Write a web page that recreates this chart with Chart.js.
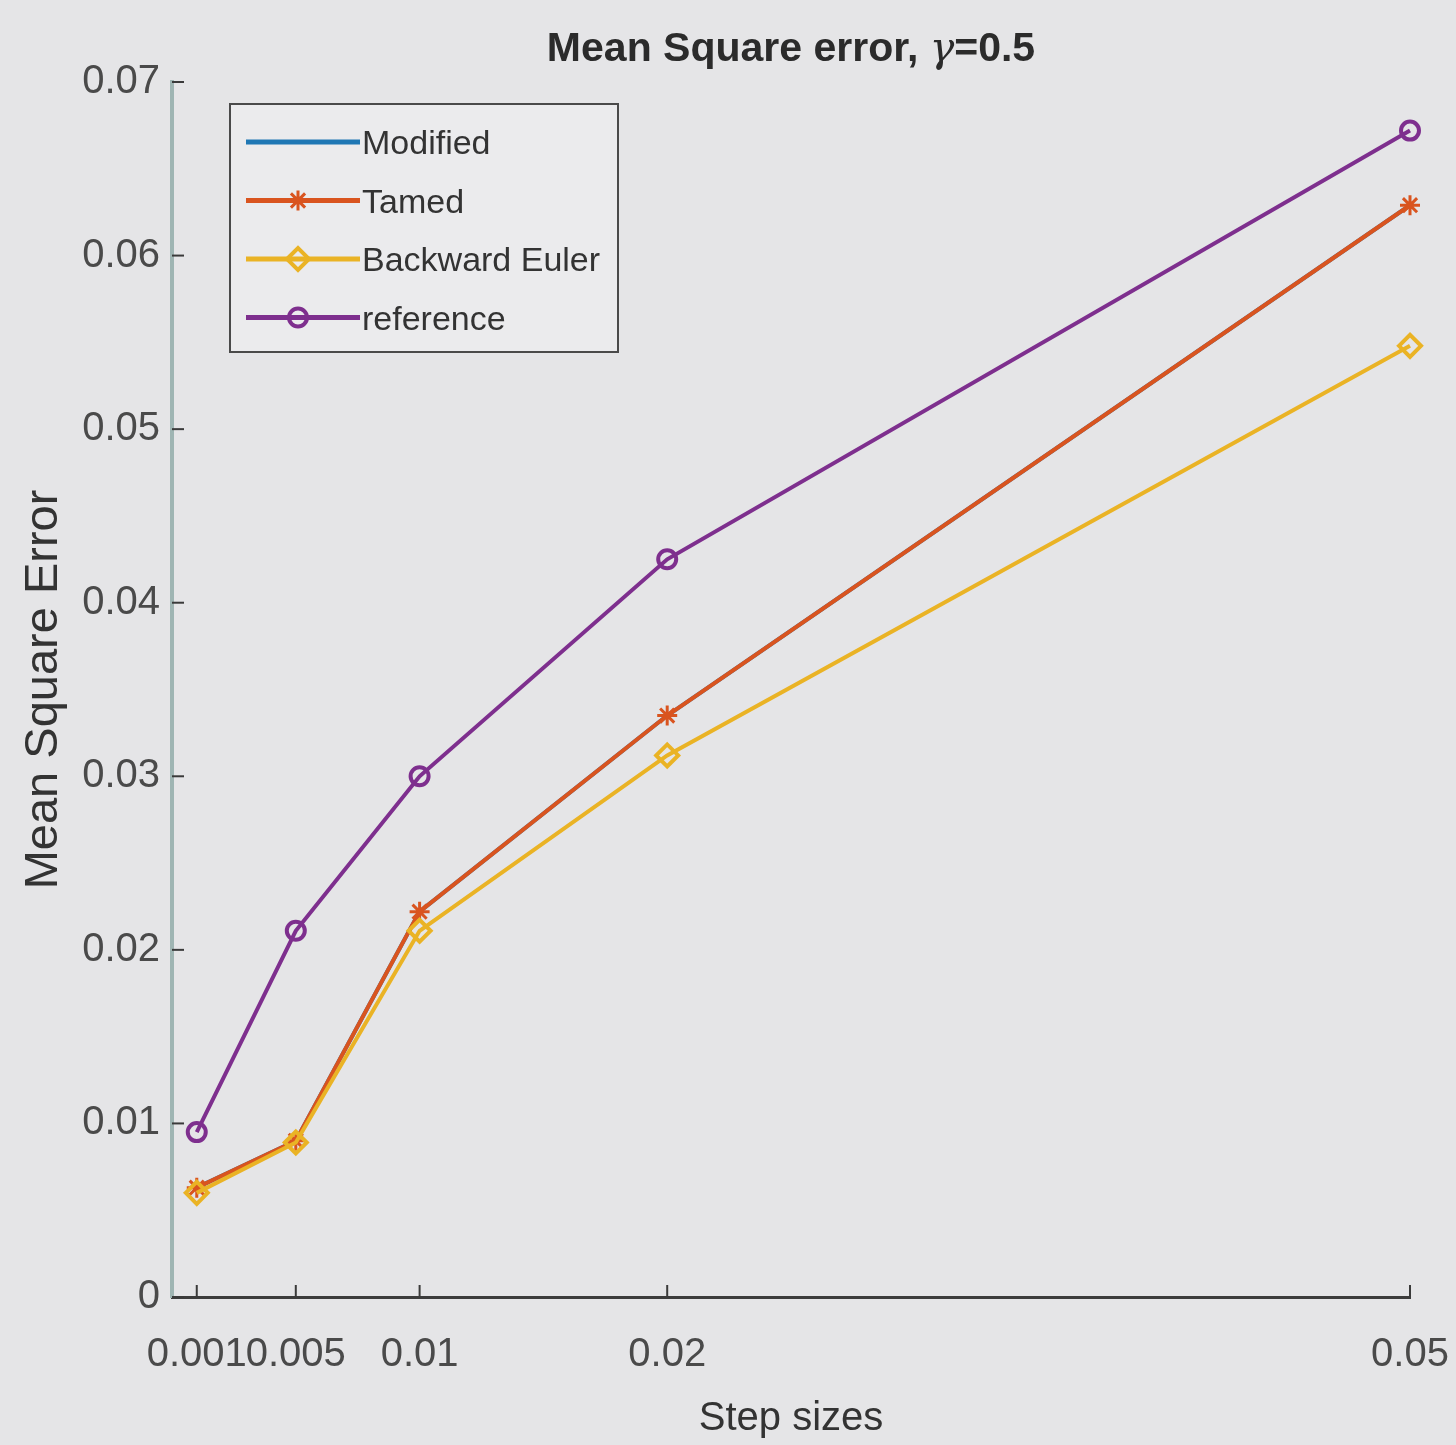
<!DOCTYPE html>
<html>
<head>
<meta charset="utf-8">
<script src="https://cdn.jsdelivr.net/npm/chart.js@4"></script>
<style>
  html, body { margin: 0; padding: 0; background: #e5e5e7; }
  #wrap { width: 1456px; height: 1445px; }
</style>
</head>
<body>
<div id="wrap"><canvas id="mseChart" width="1456" height="1445"></canvas></div>
<script>
// data
const steps = [0.001, 0.005, 0.01, 0.02, 0.05];
const stepLabels = ['0.001', '0.005', '0.01', '0.02', '0.05'];
const modified = [0.0063, 0.0090, 0.0222, 0.0335, 0.0629];
const tamed = [0.0063, 0.0090, 0.0222, 0.0335, 0.0629];
const backwardEuler = [0.0060, 0.0089, 0.0211, 0.0312, 0.0548];
const reference = [0.0095, 0.0211, 0.0300, 0.0425, 0.0672];
const yTicks = [0, 0.01, 0.02, 0.03, 0.04, 0.05, 0.06, 0.07];
const yTickLabels = ['0', '0.01', '0.02', '0.03', '0.04', '0.05', '0.06', '0.07'];

const FONT = '"Liberation Sans", Arial, sans-serif';

function pts(vals) {
    return steps.map((s, i) => ({ x: s, y: vals[i] }));
}

// title drawn centred over the plot area (matlab style)
const titlePlugin = {
    id: 'plotTitle',
    afterDraw(chart) {
        const c = chart.ctx, a = chart.chartArea;
        const parts = [
            { t: 'Mean Square error, ', f: 'bold 41px ' + FONT },
            { t: 'γ', f: 'italic 41px "DejaVu Serif", serif' },
            { t: '=0.5', f: 'bold 41px ' + FONT }
        ];
        c.save();
        let w = 0;
        parts.forEach(p => { c.font = p.f; w += c.measureText(p.t).width; });
        let x = (a.left + a.right) / 2 - w / 2;
        c.fillStyle = '#2b2b2b';
        c.textBaseline = 'alphabetic';
        parts.forEach(p => { c.font = p.f; c.fillText(p.t, x, 61); x += c.measureText(p.t).width; });
        c.restore();
    }
};

// inward tick marks
const tickPlugin = {
    id: 'inTicks',
    afterDraw(chart) {
        const c = chart.ctx, a = chart.chartArea;
        const xs = chart.scales.x, ys = chart.scales.y;
        c.save();
        c.strokeStyle = '#3a3a3a';
        c.lineWidth = 2;
        steps.forEach(s => {
            const px = xs.getPixelForValue(s);
            c.beginPath(); c.moveTo(px, a.bottom); c.lineTo(px, a.bottom - 12); c.stroke();
        });
        yTicks.forEach(v => {
            const py = ys.getPixelForValue(v);
            c.beginPath(); c.moveTo(a.left, py); c.lineTo(a.left + 12, py); c.stroke();
        });
        c.restore();
    }
};

// legend box with line samples, top left inside the axes
const legendPlugin = {
    id: 'boxLegend',
    afterDraw(chart) {
        const c = chart.ctx;
        const bx = 230, by = 104, bw = 388, bh = 248;
        c.save();
        c.fillStyle = '#ebebed';
        c.fillRect(bx, by, bw, bh);
        c.strokeStyle = '#4a4a4a';
        c.lineWidth = 2;
        c.strokeRect(bx, by, bw, bh);
        chart.data.datasets.forEach((ds, i) => {
            const y = 142 + i * 58.5;
            c.strokeStyle = ds.borderColor;
            c.lineWidth = 5;
            c.beginPath(); c.moveTo(246, y); c.lineTo(360, y); c.stroke();
            if (ds.pointStyle && ds.pointRadius > 0 && Chart.helpers && Chart.helpers.drawPoint) {
                c.lineWidth = ds.pointBorderWidth;
                c.strokeStyle = ds.borderColor;
                c.fillStyle = ds.pointBackgroundColor;
                Chart.helpers.drawPoint(c, { pointStyle: ds.pointStyle, radius: ds.pointRadius, borderWidth: ds.pointBorderWidth, rotation: 0 }, 298, y);
            }
            c.font = '34px ' + FONT;
            c.fillStyle = '#333333';
            c.textBaseline = 'middle';
            c.fillText(ds.label, 362, y + 3);
        });
        c.restore();
    }
};

const ctx = document.getElementById('mseChart').getContext('2d');
const mseChart = new Chart(ctx, {
    type: 'line',
    data: {
        datasets: [
            {
                label: 'Modified', data: pts(modified),
                borderColor: '#1f77b4', backgroundColor: '#1f77b4',
                borderWidth: 4, pointRadius: 0, pointStyle: false, order: 3, clip: false
            },
            {
                label: 'Tamed', data: pts(tamed),
                borderColor: '#d9541f', backgroundColor: '#d9541f', pointBackgroundColor: 'rgba(0,0,0,0)',
                borderWidth: 4, pointStyle: 'star', pointRadius: 10, pointBorderWidth: 3, order: 2, clip: false
            },
            {
                label: 'Backward Euler', data: pts(backwardEuler),
                borderColor: '#eab325', backgroundColor: '#eab325', pointBackgroundColor: 'rgba(0,0,0,0)',
                borderWidth: 4, pointStyle: 'rectRot', pointRadius: 11, pointBorderWidth: 4, order: 1, clip: false
            },
            {
                label: 'reference', data: pts(reference),
                borderColor: '#7e2f8e', backgroundColor: '#7e2f8e', pointBackgroundColor: 'rgba(0,0,0,0)',
                borderWidth: 4, pointStyle: 'circle', pointRadius: 9, pointBorderWidth: 4, order: 0, clip: false
            }
        ]
    },
    options: {
        responsive: false,
        animation: false,
        layout: { padding: { left: 0, right: 46, top: 82, bottom: 0 } },
        plugins: {
            legend: { display: false },
            title: { display: false },
            tooltip: { enabled: false }
        },
        scales: {
            x: {
                type: 'linear',
                min: 0,
                max: 0.05,
                afterBuildTicks: scale => { scale.ticks = steps.map(v => ({ value: v })); },
                afterFit: scale => {
                    scale.height = 148;
                    scale.paddingLeft = 0;
                    scale.paddingRight = 0;
                },
                ticks: {
                    autoSkip: false,
                    maxRotation: 0,
                    minRotation: 0,
                    padding: 34,
                    color: '#4a4a4a',
                    font: { family: FONT, size: 40 },
                    callback: (v) => stepLabels[steps.indexOf(v)]
                },
                grid: { display: false, drawTicks: false },
                border: { display: true, color: '#3c3c3c', width: 3 },
                title: {
                    display: true,
                    text: 'Step sizes',
                    color: '#333333',
                    font: { family: FONT, size: 40 },
                    padding: { top: 0, bottom: 2 }
                }
            },
            y: {
                type: 'linear',
                min: 0,
                max: 0.07,
                afterBuildTicks: scale => { scale.ticks = yTicks.map(v => ({ value: v })); },
                afterFit: scale => { scale.width = 172; },
                ticks: {
                    padding: 12,
                    color: '#4a4a4a',
                    font: { family: FONT, size: 40 },
                    callback: (v) => yTickLabels[yTicks.indexOf(v)]
                },
                grid: { display: false, drawTicks: false },
                border: { display: true, color: '#9fb5b3', width: 4 },
                title: {
                    display: true,
                    text: 'Mean Square Error',
                    color: '#333333',
                    font: { family: FONT, size: 47 },
                    padding: { top: 16, bottom: 0 }
                }
            }
        }
    },
    plugins: [titlePlugin, tickPlugin, legendPlugin]
});
</script>
</body>
</html>
